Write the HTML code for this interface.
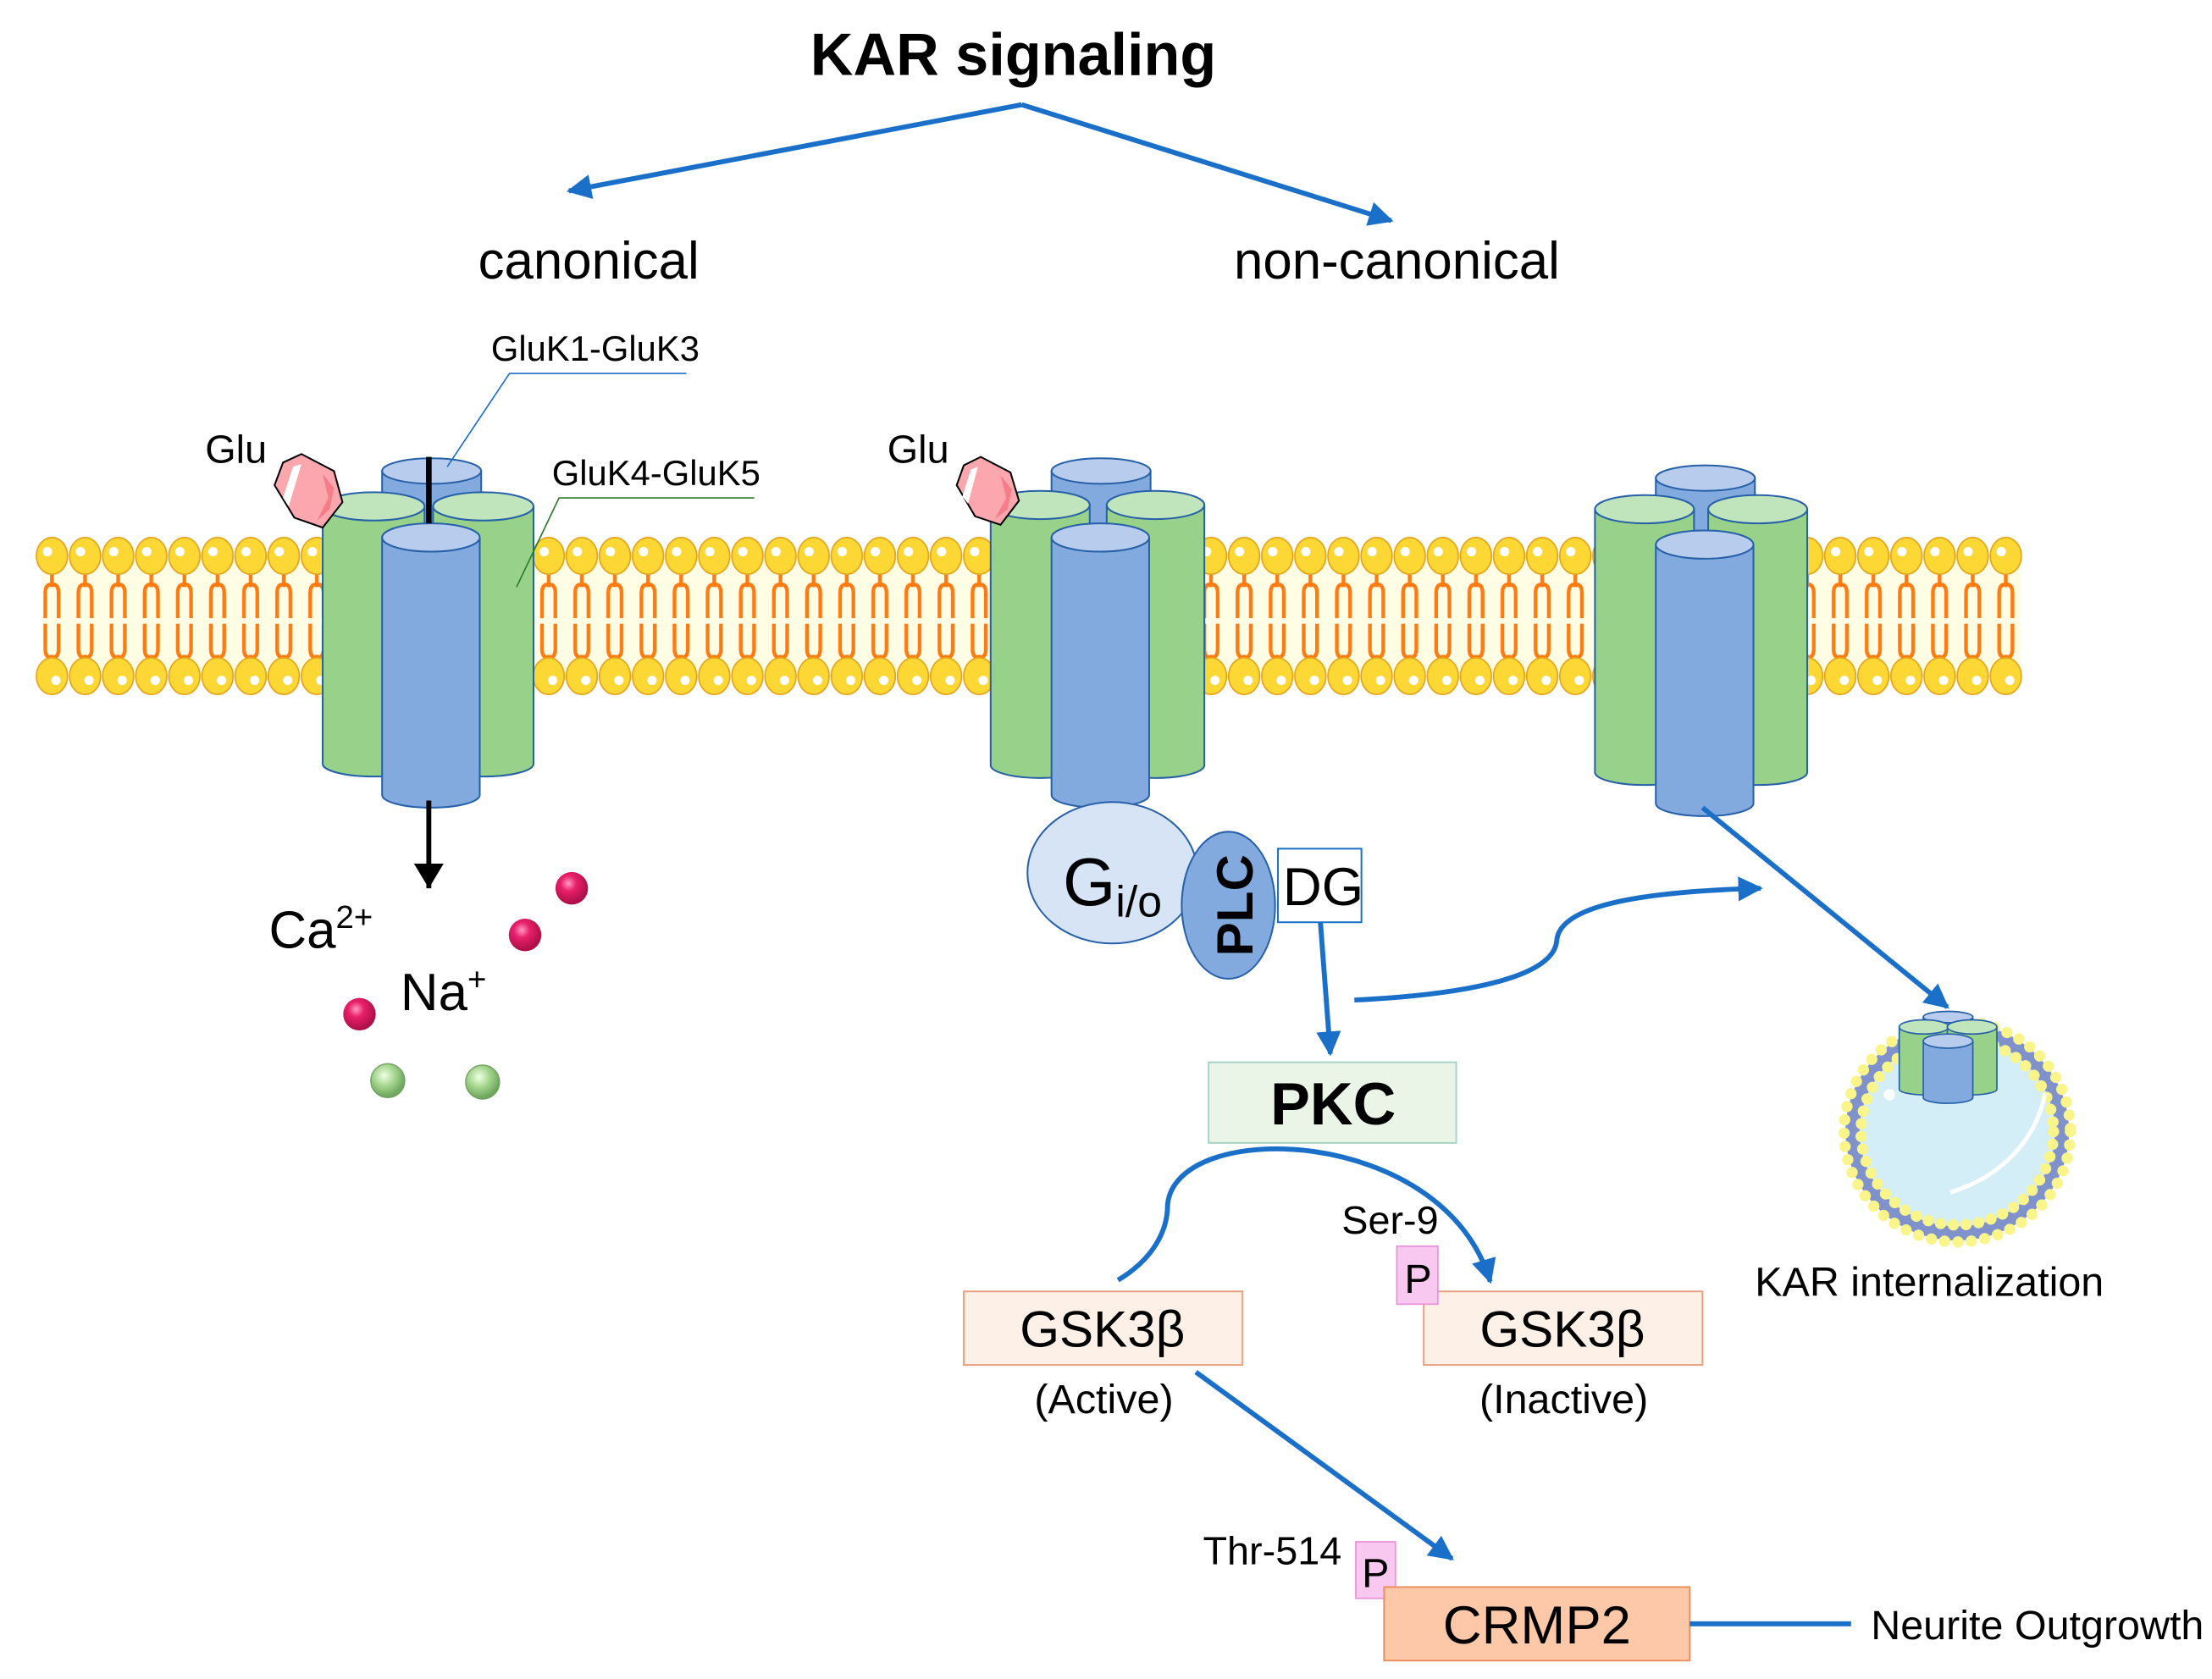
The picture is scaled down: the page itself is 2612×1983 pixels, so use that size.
<!DOCTYPE html>
<html><head><meta charset="utf-8"><style>
html,body{margin:0;padding:0;background:#fff}
svg{display:block}
text{font-family:"Liberation Sans",Arial,sans-serif;fill:#000}
</style></head><body>
<svg width="2612" height="1983" viewBox="0 0 1563 1187" preserveAspectRatio="none" xmlns="http://www.w3.org/2000/svg">
<defs>
<pattern id="lip" x="25" y="375" width="23.4" height="120" patternUnits="userSpaceOnUse">
  <path d="M11.7 30 V40 M7 62 V44 Q7 38 11.7 38 Q16.4 38 16.4 44 V62 M7 66 V84 Q7 90 11.7 90 Q16.4 90 16.4 84 V66 M11.7 88 V96" stroke="#ff7a10" stroke-width="2.6" fill="none"/>
  <ellipse cx="11.7" cy="18" rx="11" ry="13" fill="#fdd835" stroke="#e3a21a" stroke-width="1"/>
  <circle cx="8.5" cy="15" r="3.3" fill="#fff"/>
  <ellipse cx="11.7" cy="103" rx="11" ry="13" fill="#fdd835" stroke="#e3a21a" stroke-width="1"/>
  <circle cx="14.5" cy="106" r="3.3" fill="#fff"/>
</pattern>
<marker id="ah" markerWidth="6" markerHeight="6" refX="4.5" refY="2.5" orient="auto" markerUnits="strokeWidth">
  <path d="M0 0 L5 2.5 L0 5 Z" fill="#1a6fc9"/>
</marker>
<marker id="ahk" markerWidth="6" markerHeight="6" refX="5" refY="3" orient="auto" markerUnits="strokeWidth">
  <path d="M0 0 L5 3 L0 6 Z" fill="#000"/>
</marker>
<radialGradient id="rb" cx="0.4" cy="0.35" r="0.6"><stop offset="0" stop-color="#ff9ac0"/><stop offset="0.4" stop-color="#e8206a"/><stop offset="1" stop-color="#b0104a"/></radialGradient>
<radialGradient id="gb" cx="0.4" cy="0.35" r="0.6"><stop offset="0" stop-color="#f0ffe8"/><stop offset="0.5" stop-color="#a8d890"/><stop offset="1" stop-color="#70a860"/></radialGradient>
</defs>

<!-- membrane -->
<rect x="30" y="393" width="1398" height="85" fill="#fffde4"/>
<rect x="25" y="375" width="1404" height="120" fill="url(#lip)"/>

<!-- title -->
<text x="716" y="53" font-size="42" font-weight="bold" text-anchor="middle">KAR signaling</text>
<path d="M722 74 L402 135" stroke="#1a6fc9" stroke-width="3.5" fill="none" marker-end="url(#ah)"/>
<path d="M722 74 L983 156" stroke="#1a6fc9" stroke-width="3.5" fill="none" marker-end="url(#ah)"/>
<text x="416" y="197" font-size="37" text-anchor="middle">canonical</text>
<text x="987" y="197" font-size="37" text-anchor="middle">non-canonical</text>

<!-- Receptor 1 -->
<g stroke="#2560a8" stroke-width="1.2">
  <path d="M270 333 V400 H340 V333 Z" fill="#82aade"/><ellipse cx="305" cy="333" rx="35" ry="9" fill="#b8cced"/>
  <path d="M228 358 V540 A36 9 0 0 0 300 540 V358 Z" fill="#98d28a"/><ellipse cx="264" cy="358" rx="36" ry="10" fill="#c0e4bc"/>
  <path d="M306 358 V540 A35.5 9 0 0 0 377 540 V358 Z" fill="#98d28a"/><ellipse cx="341.5" cy="358" rx="35.5" ry="10" fill="#c0e4bc"/>
  <path d="M270 380 V562 A34.5 9 0 0 0 339 562 V380 Z" fill="#82aade"/><ellipse cx="304.5" cy="380" rx="34.5" ry="10" fill="#b8cced"/>
</g>
<line x1="303" y1="323" x2="303" y2="370" stroke="#000" stroke-width="4"/>
<line x1="303" y1="566" x2="303" y2="628" stroke="#000" stroke-width="3.5" marker-end="url(#ahk)"/>
<text x="347" y="255" font-size="25">GluK1-GluK3</text>
<path d="M485 264 H360 L316 330" stroke="#1a6fc9" stroke-width="1" fill="none"/>
<text x="390" y="343" font-size="25">GluK4-GluK5</text>
<path d="M533 352 H395 L365 415" stroke="#2a7a2a" stroke-width="1" fill="none"/>
<text x="145" y="327" font-size="28">Glu</text>
<polygon points="213,321 236,333 242,355 228,373 208,366 194,343 200,327" fill="#fca7ae" stroke="#000" stroke-width="1.2"/>
<polygon points="228,335 236,345 233,360 224,368 232,352" fill="#f47d8a"/>
<polygon points="207,330 213,328 204,358 200,352" fill="#fff"/>

<!-- ions -->
<text x="190" y="670" font-size="37">Ca<tspan font-size="23" dy="-14">2+</tspan></text>
<text x="283" y="714" font-size="37">Na<tspan font-size="23" dy="-14">+</tspan></text>
<circle cx="404" cy="628" r="11.5" fill="url(#rb)"/>
<circle cx="371" cy="661" r="11.5" fill="url(#rb)"/>
<circle cx="254" cy="717" r="11.5" fill="url(#rb)"/>
<circle cx="274" cy="764" r="12" fill="url(#gb)" stroke="#70a060" stroke-width="0.8"/>
<circle cx="341" cy="765" r="12" fill="url(#gb)" stroke="#70a060" stroke-width="0.8"/>

<!-- Receptor 2 -->
<g stroke="#2560a8" stroke-width="1.2">
  <path d="M743 333 V400 H813 V333 Z" fill="#82aade"/><ellipse cx="778" cy="333" rx="35" ry="9" fill="#b8cced"/>
  <path d="M700 357 V541 A35 9 0 0 0 770 541 V357 Z" fill="#98d28a"/><ellipse cx="735" cy="357" rx="35" ry="10" fill="#c0e4bc"/>
  <path d="M782 357 V541 A34.5 9 0 0 0 851 541 V357 Z" fill="#98d28a"/><ellipse cx="816.5" cy="357" rx="34.5" ry="10" fill="#c0e4bc"/>
  <path d="M743 380 V562 A34.5 9 0 0 0 812 562 V380 Z" fill="#82aade"/><ellipse cx="777.5" cy="380" rx="34.5" ry="10" fill="#b8cced"/>
</g>
<text x="627" y="327" font-size="28">Glu</text>
<polygon points="693,323 714,334 720,354 707,371 689,365 676,343 681,329" fill="#fca7ae" stroke="#000" stroke-width="1.2"/>
<polygon points="707,336 715,346 712,360 703,367 711,352" fill="#f47d8a"/>
<polygon points="686,332 691,330 684,356 680,351" fill="#fff"/>

<!-- Gi/o PLC DG -->
<ellipse cx="786" cy="617" rx="60" ry="50" fill="#d6e4f5" stroke="#2560a8" stroke-width="1.2"/>
<text x="751" y="640" font-size="48">G<tspan font-size="31" dy="8">i/o</tspan></text>
<ellipse cx="868" cy="640" rx="33" ry="52" fill="#82aade" stroke="#2560a8" stroke-width="1.2"/>
<text transform="translate(885,640) rotate(-90)" font-size="36" font-weight="bold" text-anchor="middle">PLC</text>
<rect x="903" y="600" width="59" height="52" fill="#fff" stroke="#1a6fc9" stroke-width="1.2"/>
<text x="935" y="640" font-size="38" text-anchor="middle">DG</text>
<path d="M933 652 L940 745" stroke="#1a6fc9" stroke-width="3.5" fill="none" marker-end="url(#ah)"/>
<path d="M957 707 C1040 703 1098 690 1100 665 C1102 638 1170 630 1244 628" stroke="#1a6fc9" stroke-width="3.5" fill="none" marker-end="url(#ah)"/>

<!-- Receptor 3 -->
<g stroke="#2560a8" stroke-width="1.2">
  <path d="M1170 338 V405 H1240 V338 Z" fill="#82aade"/><ellipse cx="1205" cy="338" rx="35" ry="9" fill="#b8cced"/>
  <path d="M1127 360 V546 A35 9 0 0 0 1197 546 V360 Z" fill="#98d28a"/><ellipse cx="1162" cy="360" rx="35" ry="10" fill="#c0e4bc"/>
  <path d="M1207 360 V546 A35 9 0 0 0 1277 546 V360 Z" fill="#98d28a"/><ellipse cx="1242" cy="360" rx="35" ry="10" fill="#c0e4bc"/>
  <path d="M1170 385 V568 A34.5 9 0 0 0 1239 568 V385 Z" fill="#82aade"/><ellipse cx="1204.5" cy="385" rx="34.5" ry="10" fill="#b8cced"/>
</g>
<path d="M1203 571 L1376 712" stroke="#1a6fc9" stroke-width="3.5" fill="none" marker-end="url(#ah)"/>

<!-- vesicle -->
<ellipse cx="1383" cy="800" rx="70" ry="68" fill="#d4eef8"/>
<ellipse cx="1383" cy="800" rx="74" ry="72" fill="none" stroke="#7f92cc" stroke-width="10"/>
<ellipse cx="1383" cy="800" rx="80" ry="78" fill="none" stroke="#faf58a" stroke-width="8" stroke-dasharray="0 9.5" stroke-linecap="round"/>
<ellipse cx="1383" cy="800" rx="68" ry="66" fill="none" stroke="#faf58a" stroke-width="8" stroke-dasharray="0 9" stroke-linecap="round"/>
<path d="M1445 773 C1440 800 1420 830 1378 843" stroke="#fff" stroke-width="3" fill="none"/>
<circle cx="1351" cy="762" r="8" fill="#fff" opacity="0.9"/>
<circle cx="1335" cy="774" r="4" fill="#fff" opacity="0.9"/>
<g stroke="#2560a8" stroke-width="1">
  <path d="M1359 719 V740 H1394 V719 Z" fill="#82aade"/><ellipse cx="1376.5" cy="719" rx="17.5" ry="4" fill="#b8cced"/>
  <path d="M1342 726 V770 A17.5 4 0 0 0 1377 770 V726 Z" fill="#98d28a"/><ellipse cx="1359.5" cy="726" rx="17.5" ry="5" fill="#c0e4bc"/>
  <path d="M1376 726 V770 A17.5 4 0 0 0 1411 770 V726 Z" fill="#98d28a"/><ellipse cx="1393.5" cy="726" rx="17.5" ry="5" fill="#c0e4bc"/>
  <path d="M1359 736 V776 A17.5 4 0 0 0 1394 776 V736 Z" fill="#82aade"/><ellipse cx="1376.5" cy="736" rx="17.5" ry="5" fill="#b8cced"/>
</g>
<text x="1240" y="916" font-size="29">KAR internalization</text>

<!-- PKC -->
<rect x="854" y="751" width="175" height="57" fill="#eaf5e8" stroke="#a8d4c8" stroke-width="1.2"/>
<text x="942" y="795" font-size="42" font-weight="bold" text-anchor="middle">PKC</text>
<path d="M790 905 C815 890 825 870 825 852 C830 790 1020 795 1053 906" stroke="#1a6fc9" stroke-width="3.5" fill="none" marker-end="url(#ah)"/>

<!-- GSK3b -->
<rect x="681" y="913" width="197" height="52" fill="#fdf0e6" stroke="#e8a080" stroke-width="1.2"/>
<text x="779" y="952" font-size="36" text-anchor="middle">GSK3β</text>
<text x="780" y="999" font-size="29" text-anchor="middle">(Active)</text>
<rect x="1006" y="913" width="197" height="52" fill="#fdf0e6" stroke="#e8a080" stroke-width="1.2"/>
<text x="1104" y="952" font-size="36" text-anchor="middle">GSK3β</text>
<text x="1105" y="999" font-size="29" text-anchor="middle">(Inactive)</text>
<text x="948" y="872" font-size="28">Ser-9</text>
<rect x="987" y="881" width="29" height="41" fill="#f9c8f0" stroke="#e890d8" stroke-width="1"/>
<text x="1002" y="914" font-size="29" text-anchor="middle">P</text>

<path d="M845 970 L1026 1102" stroke="#1a6fc9" stroke-width="3.5" fill="none" marker-end="url(#ah)"/>

<!-- CRMP2 -->
<text x="850" y="1106" font-size="28">Thr-514</text>
<rect x="958" y="1090" width="28" height="40" fill="#f9c8f0" stroke="#e890d8" stroke-width="1"/>
<rect x="978" y="1122" width="216" height="52" fill="#fcc8a8" stroke="#e89060" stroke-width="1.2"/>
<text x="972" y="1122" font-size="29" text-anchor="middle">P</text>
<text x="1086" y="1162" font-size="38" text-anchor="middle">CRMP2</text>
<line x1="1194" y1="1148" x2="1308" y2="1148" stroke="#1a6fc9" stroke-width="3.5"/>
<text x="1322" y="1159" font-size="29">Neurite Outgrowth</text>
</svg>
</body></html>
